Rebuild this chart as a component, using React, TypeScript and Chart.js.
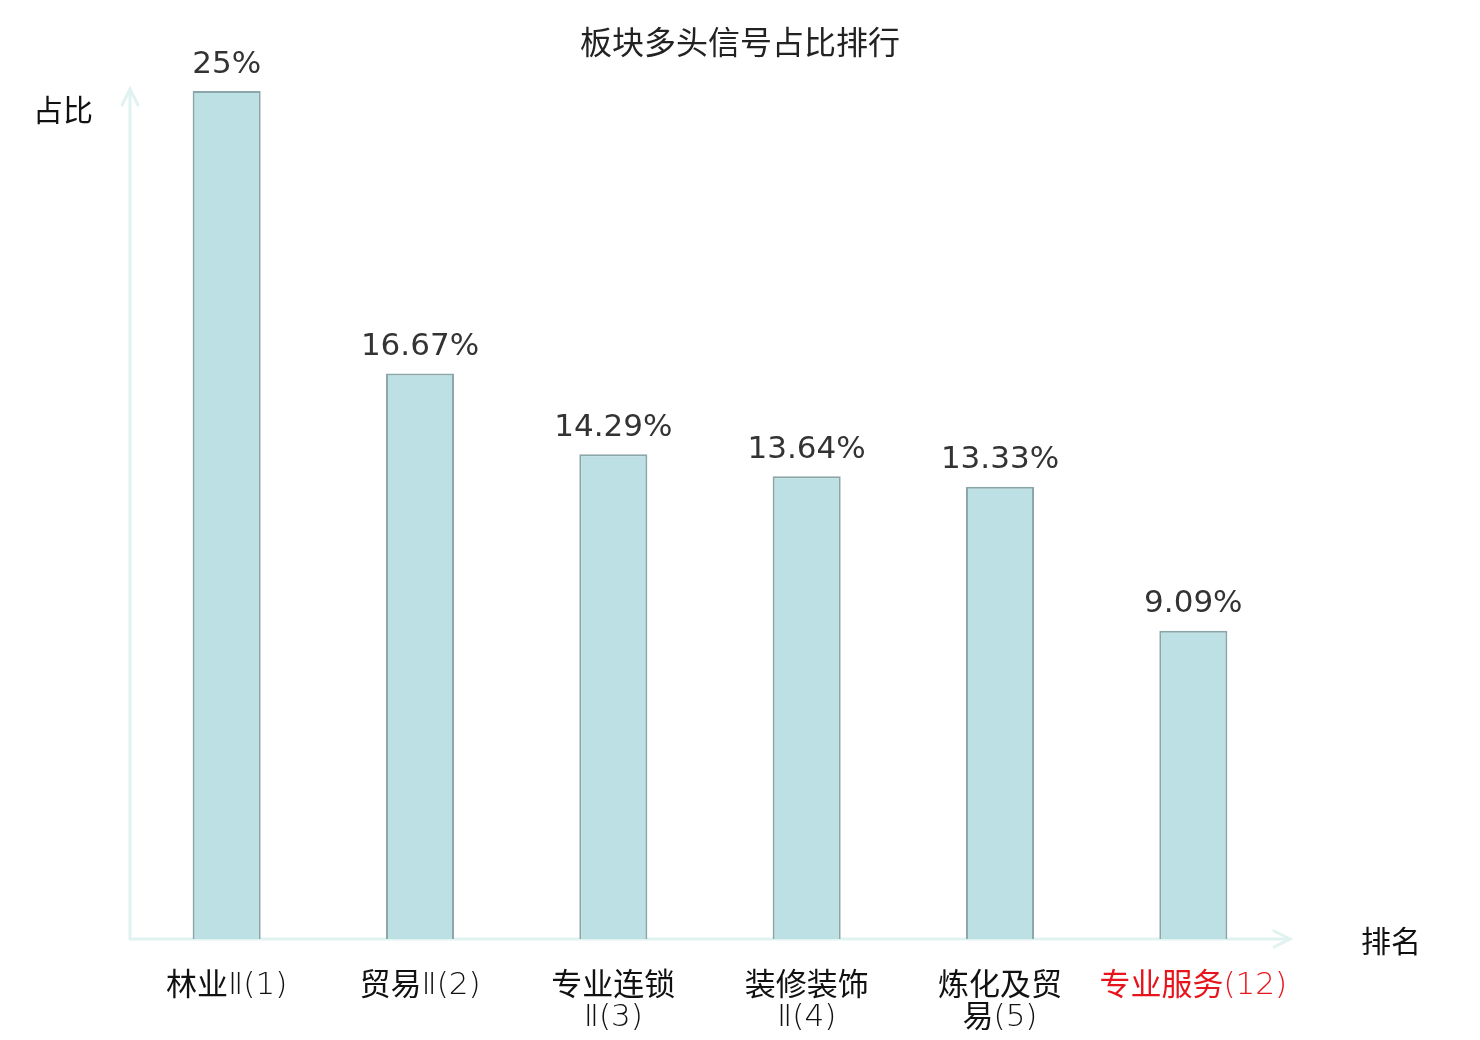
import React, { useEffect, useRef } from "react";
import { Chart, registerables } from "chart.js";

Chart.register(...registerables);

const categories: string[][] = [
  ["林业Ⅱ(1)"],
  ["贸易Ⅱ(2)"],
  ["专业连锁", "Ⅱ(3)"],
  ["装修装饰", "Ⅱ(4)"],
  ["炼化及贸", "易(5)"],
  ["专业服务(12)"],
];
const values: number[] = [25, 16.67, 14.29, 13.64, 13.33, 9.09];
const valueLabels: string[] = ["25%", "16.67%", "14.29%", "13.64%", "13.33%", "9.09%"];
const highlighted: boolean[] = [false, false, false, false, false, true];
const titleText = "板块多头信号占比排行";
const yAxisName = "占比";
const xAxisName = "排名";

const FONT = "'DejaVu Sans', 'Noto Sans CJK SC', sans-serif";
const CJK = "'Noto Sans CJK SC', sans-serif";
const LIGHT = "'DejaVu Sans ExtraLight', 'DejaVu Sans', sans-serif";

function isCJK(ch: string) {
  return /[\u4e00-\u9fff]/.test(ch);
}

function drawMixed(ctx: CanvasRenderingContext2D, text: string, cx: number, baseY: number, size: number) {
  const runs: { t: string; cjk: boolean }[] = [];
  for (const ch of text) {
    const c = isCJK(ch);
    if (runs.length && runs[runs.length - 1].cjk === c) runs[runs.length - 1].t += ch;
    else runs.push({ t: ch, cjk: c });
  }
  const fontFor = (c: boolean) => (c ? `400 ${size}px ${CJK}` : `200 ${size}px ${LIGHT}`);
  let total = 0;
  const widths = runs.map((r) => {
    ctx.font = fontFor(r.cjk);
    const w = ctx.measureText(r.t).width;
    total += w;
    return w;
  });
  let x = cx - total / 2;
  ctx.textAlign = "left";
  ctx.textBaseline = "alphabetic";
  runs.forEach((r, i) => {
    ctx.font = fontFor(r.cjk);
    ctx.fillText(r.t, x, r.cjk ? baseY : baseY - 1);
    x += widths[i];
  });
}

const decorPlugin = {
  id: "decor",
  beforeDatasetsDraw(chart: any) {
    const { ctx, chartArea } = chart;
    const { left, right, top, bottom } = chartArea;
    ctx.save();
    ctx.strokeStyle = "#e0f3f0";
    ctx.lineWidth = 3;
    ctx.lineCap = "round";
    ctx.beginPath();
    ctx.moveTo(left, bottom);
    ctx.lineTo(left, top - 2);
    ctx.stroke();
    ctx.beginPath();
    ctx.moveTo(left - 8, top + 14);
    ctx.lineTo(left, top - 2);
    ctx.lineTo(left + 8, top + 14);
    ctx.stroke();
    ctx.beginPath();
    ctx.moveTo(left, bottom);
    ctx.lineTo(right, bottom);
    ctx.stroke();
    ctx.beginPath();
    ctx.moveTo(right - 16, bottom - 8);
    ctx.lineTo(right, bottom);
    ctx.lineTo(right - 16, bottom + 8);
    ctx.stroke();
    ctx.restore();
  },
  afterDatasetsDraw(chart: any) {
    const { ctx, chartArea } = chart;
    const xScale = chart.scales.x;
    const yScale = chart.scales.y;
    ctx.save();
    ctx.fillStyle = "#222";
    ctx.font = `32px ${CJK}`;
    ctx.textAlign = "center";
    ctx.textBaseline = "middle";
    ctx.fillText(titleText, chart.width / 2, 42);
    ctx.fillStyle = "#111";
    ctx.font = `30px ${CJK}`;
    ctx.fillText(yAxisName, 63, 110);
    ctx.fillText(xAxisName, 1391, 941);
    ctx.fillStyle = "#333";
    ctx.font = `31px ${FONT}`;
    ctx.textBaseline = "bottom";
    values.forEach((v, i) => {
      const x = xScale.getPixelForValue(i);
      const y = yScale.getPixelForValue(v);
      ctx.fillText(valueLabels[i], x, y - 11);
    });
    categories.forEach((lines, i) => {
      const x = xScale.getPixelForValue(i);
      ctx.fillStyle = highlighted[i] ? "#e8141c" : "#111";
      lines.forEach((ln, j) => {
        drawMixed(ctx, ln, x, chartArea.bottom + 56 + j * 32, 31);
      });
    });
    ctx.restore();
  },
};

export default function App() {
  const ref = useRef<HTMLCanvasElement | null>(null);
  useEffect(() => {
    document.body.style.margin = "0";
    const canvas = ref.current!;
    const chart = new Chart(canvas, {
      type: "bar",
      data: {
        labels: categories.map((c) => c.join("")),
        datasets: [
          {
            data: values,
            backgroundColor: "#bce0e3",
            borderColor: "#8aa6a8",
            borderWidth: 2,
            barPercentage: 0.352,
            categoryPercentage: 1,
          },
        ],
      },
      options: {
        animation: false,
        responsive: false,
        devicePixelRatio: 1,
        layout: { padding: { left: 130, right: 190, top: 91, bottom: 101 } },
        plugins: {
          legend: { display: false },
          title: { display: false },
          tooltip: { enabled: false },
        },
        scales: {
          x: { display: false },
          y: { display: false, min: 0, max: 25 },
        },
      },
      plugins: [decorPlugin],
    });
    return () => chart.destroy();
  }, []);
  return (
    <div style={{ position: "absolute", left: 0, top: 0, width: 1480, height: 1040, background: "#fff" }}>
      <canvas ref={ref} width={1480} height={1040} style={{ width: 1480, height: 1040 }} />
    </div>
  );
}
